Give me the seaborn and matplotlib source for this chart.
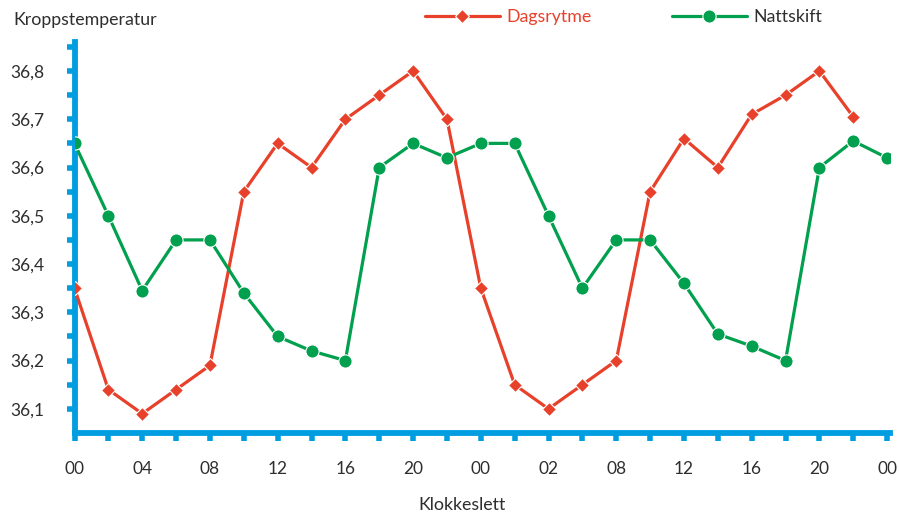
import matplotlib
matplotlib.use("Agg")
import matplotlib.pyplot as plt
import seaborn as sns
import pandas as pd
from matplotlib.lines import Line2D
from matplotlib.ticker import FixedLocator, FixedFormatter

# ---- data ----
dagsrytme = [36.35, 36.14, 36.09, 36.14, 36.19, 36.55, 36.65, 36.60, 36.70, 36.75, 36.80, 36.70,
             36.35, 36.15, 36.10, 36.15, 36.20, 36.55, 36.66, 36.60, 36.71, 36.75, 36.80, 36.705]
nattskift = [36.65, 36.50, 36.345, 36.45, 36.45, 36.34, 36.25, 36.22, 36.20, 36.60, 36.65, 36.62,
             36.65, 36.65, 36.50, 36.35, 36.45, 36.45, 36.36, 36.255, 36.23, 36.20, 36.60, 36.655, 36.62]
x_label_positions = [0, 2, 4, 6, 8, 10, 12, 14, 16, 18, 20, 22, 24]
x_tick_labels = ["00", "04", "08", "12", "16", "20", "00", "02", "08", "12", "16", "20", "00"]
y_major = [36.1, 36.2, 36.3, 36.4, 36.5, 36.6, 36.7, 36.8]
y_tick_labels = ["36,1", "36,2", "36,3", "36,4", "36,5", "36,6", "36,7", "36,8"]
series_names = ["Dagsrytme", "Nattskift"]

RED = "#E8412B"
GREEN = "#00A04E"
BLUE = "#009EE0"
TXT = "#2E2E2E"

sns.set_theme(style="white")
plt.rcParams["font.family"] = ["Lato", "DejaVu Sans"]

df_red = pd.DataFrame({"x": range(len(dagsrytme)), "y": dagsrytme})
df_green = pd.DataFrame({"x": range(len(nattskift)), "y": nattskift})

fig = plt.figure(figsize=(9, 5.15), dpi=100)
ax = fig.add_axes([74.5 / 900, (515 - 433) / 515, 816 / 900, 391 / 515])

sns.lineplot(data=df_red, x="x", y="y", ax=ax, color=RED, linewidth=2.3,
             marker="D", markersize=7, markeredgecolor="white", markeredgewidth=0.8, zorder=3)
sns.lineplot(data=df_green, x="x", y="y", ax=ax, color=GREEN, linewidth=2.3,
             marker="o", markersize=9.5, markeredgecolor="white", markeredgewidth=0.8, zorder=4)

ax.set_xlim(0, 24.1)
ax.set_ylim(36.05, 36.86)

# ticks
xt = list(range(25))
xl = [""] * 25
for p, l in zip(x_label_positions, x_tick_labels):
    xl[p] = l
ax.xaxis.set_major_locator(FixedLocator(xt))
ax.xaxis.set_major_formatter(FixedFormatter(xl))

yt = [round(36.1 + 0.05 * i, 2) for i in range(16)]
yl = [""] * len(yt)
for v, l in zip(y_major, y_tick_labels):
    yl[yt.index(round(v, 2))] = l
ax.yaxis.set_major_locator(FixedLocator(yt))
ax.yaxis.set_major_formatter(FixedFormatter(yl))

ax.tick_params(axis="both", which="major", direction="out", length=6, width=4,
               color=BLUE, labelcolor=TXT, labelsize=12.5)
ax.tick_params(axis="x", pad=14, bottom=True)
ax.tick_params(axis="y", pad=16, left=True)

for s in ["top", "right"]:
    ax.spines[s].set_visible(False)
for s in ["left", "bottom"]:
    ax.spines[s].set_color(BLUE)
    ax.spines[s].set_linewidth(4.2)
    ax.spines[s].set_capstyle("projecting")

ax.set_xlabel("")
ax.set_ylabel("")
ax.grid(False)

fig.text(13 / 900, 1 - 20 / 515, "Kroppstemperatur", ha="left", va="center",
         fontsize=12.8, color=TXT)
fig.text(462 / 900, 1 - 505 / 515, "Klokkeslett", ha="center", va="center",
         fontsize=12.8, color=TXT)

handles = [
    Line2D([], [], color=RED, linewidth=2.3, marker="D", markersize=7,
           markeredgecolor="white", markeredgewidth=0.8),
    Line2D([], [], color=GREEN, linewidth=2.3, marker="o", markersize=9.5,
           markeredgecolor="white", markeredgewidth=0.8),
]
leg = fig.legend(handles, series_names, loc="center left",
                 bbox_to_anchor=(425 / 900, 1 - 17 / 515), ncol=2, frameon=False,
                 borderpad=0, borderaxespad=0, handlelength=4.2, handletextpad=0.4,
                 columnspacing=4.5, fontsize=12.8)
leg.get_texts()[0].set_color(RED)
leg.get_texts()[1].set_color(TXT)

fig.savefig("out.png", dpi=100, facecolor="white")
